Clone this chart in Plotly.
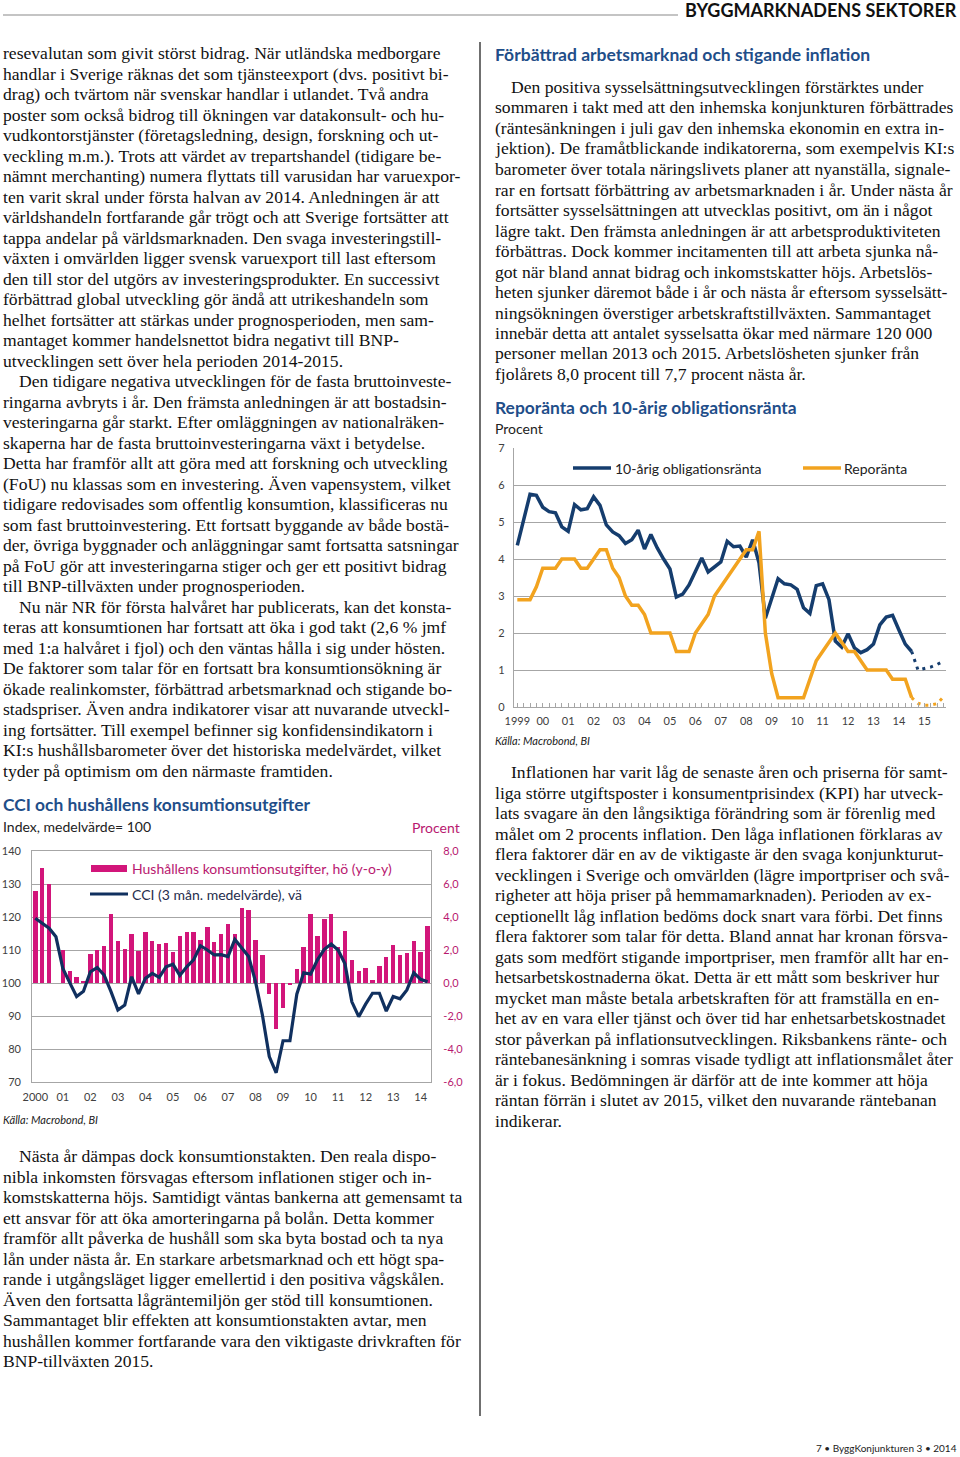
import plotly.graph_objects as go
import pandas as pd

W, H = 960, 1457
def X(px): return px / W
def Y(py): return 1 - py / H

# ---------------- Chart 1 data: CCI and household consumption ----------------
cci_periods = pd.period_range("2000Q1", "2014Q2", freq="Q")
consumption_yoy = [5.6, 7.0, 6.0, 0.0, 2.0, 0.7, 0.35, 0.15, 1.75, 2.0, 2.25, 4.2,
                   2.55, 2.05, 3.0, 1.95, 3.1, 2.55, 2.35, 2.4, 1.9, 2.85, 3.1, 3.1,
                   2.6, 3.4, 2.5, 2.95, 3.55, 3.0, 4.55, 4.4, 2.6, 1.7, -0.65, -2.8,
                   -1.5, -0.1, 0.85, 2.2, 4.2, 2.85, 3.85, 4.2, 2.2, 3.15, 1.4, 0.7,
                   0.9, 0.2, 1.05, 1.6, 2.3, 1.7, 1.8, 2.55, 1.85, 3.45]
cci_3m = [119.6, 118.1, 116.6, 114.0, 104.4, 100.1, 95.9, 97.5, 103.4, 104.7,
          102.4, 97.4, 91.8, 93.3, 101.9, 96.7, 101.4, 102.9, 101.7, 104.9,
          105.7, 102.3, 104.9, 107.0, 111.3, 110.0, 108.5, 108.6, 108.0, 113.2,
          110.5, 108.0, 100.4, 90.3, 77.7, 72.8, 82.5, 82.5, 96.6, 103.1,
          102.7, 107.0, 110.2, 111.8, 110.0, 105.8, 94.3, 89.8, 93.6, 96.9,
          96.9, 91.5, 95.9, 95.2, 97.9, 103.1, 101.1, 100.4]
c1_years = list(range(2000, 2015))
c1_year_labels = ["2000"] + [f"{y % 100:02d}" for y in range(2001, 2015)]
c1_left_ticks = [70, 80, 90, 100, 110, 120, 130, 140]
c1_right_ticks = [-6, -4, -2, 0, 2, 4, 6, 8]
c1_right_labels = ["-6,0", "-4,0", "-2,0", "0,0", "2,0", "4,0", "6,0", "8,0"]

# ---------------- Chart 2 data: repo rate and 10y bond ----------------
rate_periods = pd.period_range("1999Q1", "2014Q3", freq="Q")
bond_10y = [4.37, 5.05, 5.75, 5.72, 5.4, 5.28, 5.25, 4.87, 4.75, 5.47,
            5.33, 5.36, 5.68, 5.45, 4.92, 4.73, 4.63, 4.42, 4.52, 4.78,
            4.27, 4.66, 4.3, 4.0, 3.73, 2.97, 3.05, 3.3, 3.65, 4.03,
            3.65, 3.78, 3.92, 4.48, 4.33, 4.35, 4.05, 4.52, 3.9, 2.4,
            2.95, 3.47, 3.33, 3.3, 3.18, 2.68, 2.53, 3.28, 3.33, 2.9,
            1.78, 1.62, 1.98, 1.6, 1.47, 1.55, 1.7, 2.22, 2.43, 2.48,
            2.08, 1.7, 1.5]
repo = [2.9, 2.9, 2.9, 3.25, 3.75, 3.75, 3.75, 4.0, 4.0, 4.0,
        3.75, 3.75, 4.0, 4.25, 4.25, 3.75, 3.5, 3.0, 2.75, 2.75,
        2.5, 2.0, 2.0, 2.0, 2.0, 1.5, 1.5, 1.5, 2.0, 2.25,
        2.5, 3.0, 3.25, 3.5, 3.75, 4.0, 4.25, 4.25, 4.75, 2.0,
        0.9, 0.25, 0.25, 0.25, 0.25, 0.25, 0.75, 1.25, 1.5, 1.75,
        2.0, 1.75, 1.5, 1.5, 1.25, 1.0, 1.0, 1.0, 1.0, 0.75,
        0.75, 0.75, 0.25]
fc_periods = pd.period_range("2014Q3", "2015Q4", freq="Q")
bond_10y_fc = [1.5, 1.0, 1.04, 1.08, 1.15, 1.24]
repo_fc = [0.25, 0.1, 0.05, 0.05, 0.09, 0.27]
c2_years = list(range(1999, 2016))
c2_year_labels = ["1999"] + [f"{y % 100:02d}" for y in range(2000, 2016)]

def qpos(periods):
    return [p.year + (p.quarter - 1) / 4 for p in periods]

# ---------------- colours / fonts ----------------
PINK = "#D2157A"
PINK_TXT = "#B8186F"
NAVY = "#10305F"
BLUE2 = "#153D6E"
ORANGE = "#F2A31F"
HEAD = "#1F4E89"
GRID = "#A6A6A6"
SERIF = "Liberation Serif"
SANS = "Lato"
BODY = 17.6

fig = go.Figure()

# Chart 1 traces
fig.add_trace(go.Bar(x=qpos(cci_periods), y=consumption_yoy, marker_color=PINK,
                     marker_line_width=0, width=0.16, xaxis="x", yaxis="y",
                     showlegend=False, name="Hushållens konsumtionsutgifter"))
fig.add_trace(go.Scatter(x=qpos(cci_periods), y=cci_3m, mode="lines",
                         line=dict(color=NAVY, width=3.2), xaxis="x", yaxis="y2",
                         showlegend=False, name="CCI"))

# Chart 2 traces
fig.add_trace(go.Scatter(x=qpos(rate_periods), y=bond_10y, mode="lines",
                         line=dict(color=BLUE2, width=3.5), xaxis="x2", yaxis="y3",
                         showlegend=False))
fig.add_trace(go.Scatter(x=qpos(rate_periods), y=repo, mode="lines",
                         line=dict(color=ORANGE, width=3.5), xaxis="x2", yaxis="y3",
                         showlegend=False))
fig.add_trace(go.Scatter(x=qpos(fc_periods), y=bond_10y_fc, mode="lines",
                         line=dict(color=BLUE2, width=3, dash="3px,5px"), xaxis="x2", yaxis="y3",
                         showlegend=False))
fig.add_trace(go.Scatter(x=qpos(fc_periods), y=repo_fc, mode="lines",
                         line=dict(color=ORANGE, width=3, dash="3px,5px"), xaxis="x2", yaxis="y3",
                         showlegend=False))

tickfont = dict(family=SANS, size=11, color="#404040")

fig.update_layout(
    width=W, height=H, margin=dict(l=0, r=0, t=0, b=0, pad=0, autoexpand=False),
    paper_bgcolor="white", plot_bgcolor="white", bargap=0,
    xaxis=dict(domain=[X(32), X(431)], range=[1999.88, 2014.375], automargin=False,
               tickmode="array", tickvals=c1_years, ticktext=c1_year_labels,
               showgrid=False, zeroline=False, showline=True, mirror=True,
               linecolor=GRID, linewidth=1.3, ticks="", tickfont=tickfont,
               ticklabelstandoff=5, anchor="y"),
    yaxis=dict(domain=[Y(1082), Y(851)], range=[-6, 8], side="right", automargin=False,
               tickmode="array", tickvals=c1_right_ticks, ticktext=c1_right_labels,
               showgrid=True, gridcolor=GRID, gridwidth=1.3, zeroline=False,
               showline=True, mirror=True, linecolor=GRID, linewidth=1.3,
               tickfont=dict(family=SANS, size=11, color=PINK_TXT),
               ticklabelstandoff=9, anchor="x"),
    yaxis2=dict(overlaying="y", side="left", range=[70, 140], automargin=False,
                tickmode="array", tickvals=c1_left_ticks,
                showgrid=False, zeroline=False, showline=False,
                tickfont=tickfont, ticklabelstandoff=10, anchor="x"),
    xaxis2=dict(domain=[X(514), X(946)], range=[1998.87, 2015.85], automargin=False,
                tickmode="array", tickvals=c2_years, ticktext=c2_year_labels,
                showgrid=False, zeroline=False, showline=True,
                linecolor=GRID, linewidth=1.3, ticks="inside", ticklen=4,
                tickcolor=GRID, tickwidth=1,
                minor=dict(ticks="inside", ticklen=4, tick0=1999, dtick=0.25,
                           tickcolor=GRID, tickwidth=1),
                tickfont=tickfont, ticklabelstandoff=4, anchor="y3"),
    yaxis3=dict(domain=[Y(707), Y(448)], range=[0, 7], dtick=1, automargin=False,
                showgrid=True, gridcolor=GRID, gridwidth=1.3, zeroline=False,
                showline=True, linecolor=GRID, linewidth=1.3,
                tickfont=tickfont, ticklabelstandoff=6, anchor="x2"),
)

ann = []
shapes = []

def txt(x, y, text, size=BODY, color="#111111", family=SERIF, anchor="left", **kw):
    ann.append(dict(x=X(x), y=Y(y), xref="paper", yref="paper", text=text,
                    showarrow=False, xanchor=anchor, yanchor="middle",
                    font=dict(size=size, color=color, family=family), borderpad=0, **kw))

def block(lines, x, y0, step, indent_first=(), indent=16):
    for i, line in enumerate(lines):
        xx = x + (indent if i in indent_first else 0)
        txt(xx, y0 + i * step, line)

# header
txt(958, 10, "<b>BYGGMARKNADENS SEKTORER</b>", size=18, color="#111111", family=SANS, anchor="right")
shapes.append(dict(type="line", xref="paper", yref="paper", x0=X(3), x1=X(678),
                   y0=Y(15), y1=Y(15), line=dict(color="#B0B0B0", width=1.5)))
# column divider
shapes.append(dict(type="line", xref="paper", yref="paper", x0=X(480), x1=X(480),
                   y0=Y(42), y1=Y(1416), line=dict(color="#222222", width=1.3)))

left_top = [
    "resevalutan som givit störst bidrag. När utländska medborgare",
    "handlar i Sverige räknas det som tjänsteexport (dvs. positivt bi-",
    "drag) och tvärtom när svenskar handlar i utlandet. Två andra",
    "poster som också bidrog till ökningen var datakonsult- och hu-",
    "vudkontorstjänster (företagsledning, design, forskning och ut-",
    "veckling m.m.). Trots att värdet av trepartshandel (tidigare be-",
    "nämnt merchanting) numera flyttats till varusidan har varuexpor-",
    "ten varit skral under första halvan av 2014. Anledningen är att",
    "världshandeln fortfarande går trögt och att Sverige fortsätter att",
    "tappa andelar på världsmarknaden. Den svaga investeringstill-",
    "växten i omvärlden ligger svensk varuexport till last eftersom",
    "den till stor del utgörs av investeringsprodukter. En successivt",
    "förbättrad global utveckling gör ändå att utrikeshandeln som",
    "helhet fortsätter att stärkas under prognosperioden, men sam-",
    "mantaget kommer handelsnettot bidra negativt till BNP-",
    "utvecklingen sett över hela perioden 2014-2015.",
    "Den tidigare negativa utvecklingen för de fasta bruttoinveste-",
    "ringarna avbryts i år. Den främsta anledningen är att bostadsin-",
    "vesteringarna går starkt. Efter omläggningen av nationalräken-",
    "skaperna har de fasta bruttoinvesteringarna växt i betydelse.",
    "Detta har framför allt att göra med att forskning och utveckling",
    "(FoU) nu klassas som en investering. Även vapensystem, vilket",
    "tidigare redovisades som offentlig konsumtion, klassificeras nu",
    "som fast bruttoinvestering. Ett fortsatt byggande av både bostä-",
    "der, övriga byggnader och anläggningar samt fortsatta satsningar",
    "på FoU gör att investeringarna stiger och ger ett positivt bidrag",
    "till BNP-tillväxten under prognosperioden.",
    "Nu när NR för första halvåret har publicerats, kan det konsta-",
    "teras att konsumtionen har fortsatt att öka i god takt (2,6 % jmf",
    "med 1:a halvåret i fjol) och den väntas hålla i sig under hösten.",
    "De faktorer som talar för en fortsatt bra konsumtionsökning är",
    "ökade realinkomster, förbättrad arbetsmarknad och stigande bo-",
    "stadspriser. Även andra indikatorer visar att nuvarande utveckl-",
    "ing fortsätter. Till exempel befinner sig konfidensindikatorn i",
    "KI:s hushållsbarometer över det historiska medelvärdet, vilket",
    "tyder på optimism om den närmaste framtiden.",
]
block(left_top, 2, 53, (771 - 53) / 35, indent_first=(16, 27))

left_bottom = [
    "Nästa år dämpas dock konsumtionstakten. Den reala dispo-",
    "nibla inkomsten försvagas eftersom inflationen stiger och in-",
    "komstskatterna höjs. Samtidigt väntas bankerna att gemensamt ta",
    "ett ansvar för att öka amorteringarna på bolån. Detta kommer",
    "framför allt påverka de hushåll som ska byta bostad och ta nya",
    "lån under nästa år. En starkare arbetsmarknad och ett högt spa-",
    "rande i utgångsläget ligger emellertid i den positiva vågskålen.",
    "Även den fortsatta lågräntemiljön ger stöd till konsumtionen.",
    "Sammantaget blir effekten att konsumtionstakten avtar, men",
    "hushållen kommer fortfarande vara den viktigaste drivkraften för",
    "BNP-tillväxten 2015.",
]
block(left_bottom, 2, 1156, (1361 - 1156) / 10, indent_first=(0,))

right_top = [
    "Den positiva sysselsättningsutvecklingen förstärktes under",
    "sommaren i takt med att den inhemska konjunkturen förbättrades",
    "(räntesänkningen i juli gav den inhemska ekonomin en extra in-",
    "jektion). De framåtblickande indikatorerna, som exempelvis KI:s",
    "barometer över totala näringslivets planer att nyanställa, signale-",
    "rar en fortsatt förbättring av arbetsmarknaden i år. Under nästa år",
    "fortsätter sysselsättningen att utvecklas positivt, om än i något",
    "lägre takt. Den främsta anledningen är att arbetsproduktiviteten",
    "förbättras. Dock kommer incitamenten till att arbeta sjunka nå-",
    "got när bland annat bidrag och inkomstskatter höjs. Arbetslös-",
    "heten sjunker däremot både i år och nästa år eftersom sysselsätt-",
    "ningsökningen överstiger arbetskraftstillväxten. Sammantaget",
    "innebär detta att antalet sysselsatta ökar med närmare 120 000",
    "personer mellan 2013 och 2015. Arbetslösheten sjunker från",
    "fjolårets 8,0 procent till 7,7 procent nästa år.",
]
block(right_top, 494, 87, (374 - 87) / 14, indent_first=(0,))

right_bottom = [
    "Inflationen har varit låg de senaste åren och priserna för samt-",
    "liga större utgiftsposter i konsumentprisindex (KPI) har utveck-",
    "lats svagare än den långsiktiga förändring som är förenlig med",
    "målet om 2 procents inflation. Den låga inflationen förklaras av",
    "flera faktorer där en av de viktigaste är den svaga konjunkturut-",
    "vecklingen i Sverige och omvärlden (lägre importpriser och svå-",
    "righeter att höja priser på hemmamarknaden). Perioden av ex-",
    "ceptionellt låg inflation bedöms dock snart vara förbi. Det finns",
    "flera faktorer som talar för detta. Bland annat har kronan försva-",
    "gats som medfört stigande importpriser, men framför allt har en-",
    "hetsarbetskostnaderna ökat. Detta är ett mått som beskriver hur",
    "mycket man måste betala arbetskraften för att framställa en en-",
    "het av en vara eller tjänst och över tid har enhetsarbetskostnadet",
    "stor påverkan på inflationsutvecklingen. Riksbankens ränte- och",
    "räntebanesänkning i somras visade tydligt att inflationsmålet åter",
    "är i fokus. Bedömningen är därför att de inte kommer att höja",
    "räntan förrän i slutet av 2015, vilket den nuvarande räntebanan",
    "indikerar.",
]
block(right_bottom, 494, 772, (1121 - 772) / 17, indent_first=(0,))

# headings
txt(494, 55, "<b>Förbättrad arbetsmarknad och stigande inflation</b>", size=17.5, color=HEAD, family=SANS)
txt(2, 804, "<b>CCI och hushållens konsumtionsutgifter</b>", size=17.4, color=HEAD, family=SANS)
txt(2, 826, "Index, medelvärde= 100", size=14, color="#222222", family=SANS)
txt(461, 828, "Procent", size=14, color=PINK_TXT, family=SANS, anchor="right")
txt(2, 1119, "<i>Källa: Macrobond, BI</i>", size=11, color="#222222", family=SANS)

txt(494, 407, "<b>Reporänta och 10-årig obligationsränta</b>", size=17.4, color=HEAD, family=SANS)
txt(494, 428, "Procent", size=14, color="#222222", family=SANS)
txt(494, 740, "<i>Källa: Macrobond, BI</i>", size=11, color="#222222", family=SANS)

# chart 1 legend
shapes.append(dict(type="rect", xref="paper", yref="paper", x0=X(91), x1=X(127),
                   y0=Y(872), y1=Y(865), fillcolor=PINK, line_width=0))
txt(131, 868, "Hushållens konsumtionsutgifter, hö (y-o-y)", size=14, color=PINK_TXT, family=SANS)
shapes.append(dict(type="line", xref="paper", yref="paper", x0=X(90), x1=X(128),
                   y0=Y(894), y1=Y(894), line=dict(color=NAVY, width=3)))
txt(131, 894, "CCI (3 mån. medelvärde), vä", size=14, color="#1F2D4D", family=SANS)

# chart 2 legend
shapes.append(dict(type="line", xref="paper", yref="paper", x0=X(573), x1=X(611),
                   y0=Y(468), y1=Y(468), line=dict(color=BLUE2, width=3.5)))
txt(614, 468, "10-årig obligationsränta", size=14, color="#222222", family=SANS)
shapes.append(dict(type="line", xref="paper", yref="paper", x0=X(803), x1=X(841),
                   y0=Y(468), y1=Y(468), line=dict(color=ORANGE, width=3.5)))
txt(843, 468, "Reporänta", size=14, color="#222222", family=SANS)

# footer
txt(958, 1448, "7 • ByggKonjunkturen 3 • 2014", size=10, color="#222222", family=SANS, anchor="right")

fig.update_layout(annotations=ann, shapes=shapes)
fig.write_html("out.html", config={"displayModeBar": False},
               post_script="document.body.style.margin='0px';document.body.style.overflow='hidden';")
